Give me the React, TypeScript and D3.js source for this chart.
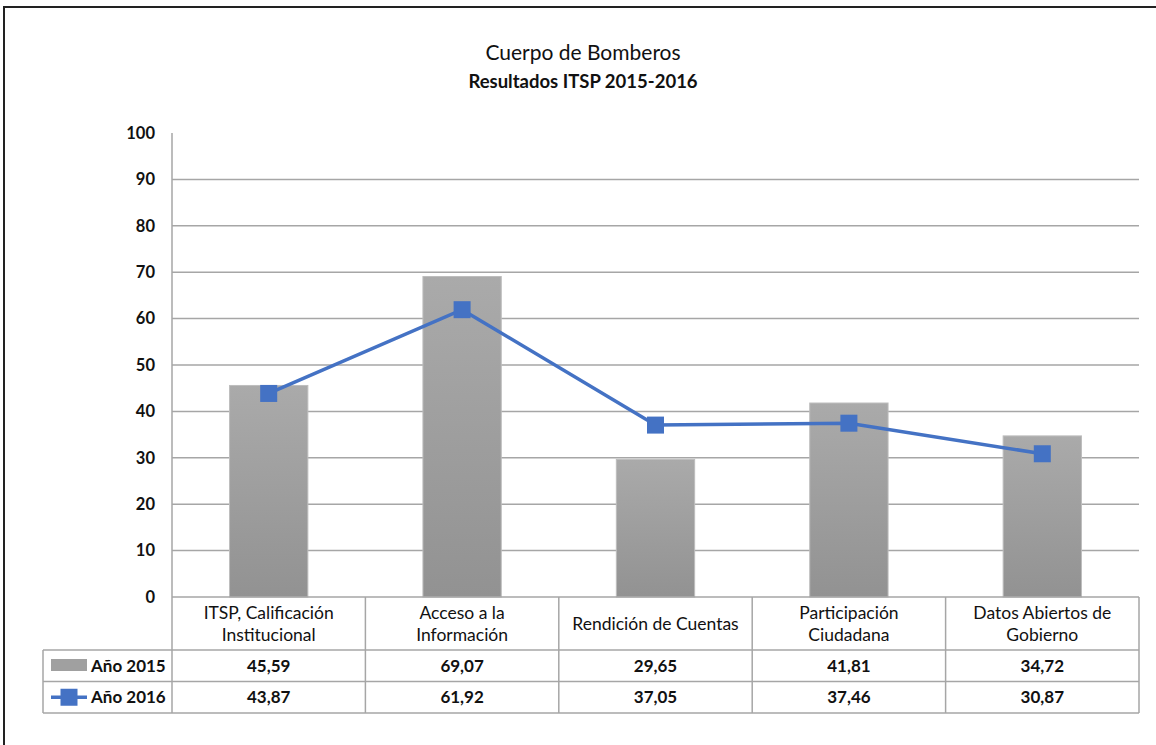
import * as d3 from 'd3';

const WIDTH = 1156;
const HEIGHT = 745;
const MARGIN = { top: 133, right: 17, bottom: 148, left: 172 };

const categories = [
  ['ITSP, Calificación', 'Institucional'],
  ['Acceso a la', 'Información'],
  ['Rendición de Cuentas'],
  ['Participación', 'Ciudadana'],
  ['Datos Abiertos de', 'Gobierno'],
];
const values2015 = [45.59, 69.07, 29.65, 41.81, 34.72];
const values2016 = [43.87, 61.92, 37.05, 37.46, 30.87];
const yTicks = [0, 10, 20, 30, 40, 50, 60, 70, 80, 90, 100];

const FONT = 'Lato, "Open Sans", sans-serif';
const BLUE = '#4472C4';
const GRID = '#a6a6a6';

const fmt = (v: number) => v.toFixed(2).replace('.', ',');

export default function App() {
  const boundsWidth = WIDTH - MARGIN.left - MARGIN.right;
  const boundsHeight = HEIGHT - MARGIN.top - MARGIN.bottom;
  const x0 = MARGIN.left;
  const y0 = MARGIN.top;

  const idx = categories.map((_, i) => i);
  const xScale = d3.scaleBand<number>().domain(idx).range([0, boundsWidth]).paddingInner(0).paddingOuter(0);
  const yScale = d3.scaleLinear().domain([0, 100]).range([boundsHeight, 0]);
  const bw = xScale.bandwidth();
  const barW = bw * 0.405;

  const lineBuilder = d3
    .line<number>()
    .x((d, i) => (xScale(i) as number) + bw / 2)
    .y((d) => yScale(d));
  const linePath = lineBuilder(values2016) || '';

  // table geometry
  const tableTop = y0 + boundsHeight;
  const headerH = 53;
  const rowH = 31.5;
  const tableLeft = 43;
  const tableRight = x0 + boundsWidth;
  const row1 = tableTop + headerH;
  const row2 = row1 + rowH;
  const row3 = row2 + rowH;

  return (
    <svg
      width={WIDTH}
      height={HEIGHT}
      style={{ position: 'absolute', left: 0, top: 0, background: '#fff' }}
    >
      <defs>
        <linearGradient id="barGrad" x1="0" y1="0" x2="0" y2="1">
          <stop offset="0%" stopColor="#aaaaaa" />
          <stop offset="100%" stopColor="#929292" />
        </linearGradient>
      </defs>
      <rect x={4} y={7} width={WIDTH + 20} height={HEIGHT + 20} fill="#fff" stroke="#222" strokeWidth={2} />

      <text x={583} y={53} dy="0.35em" textAnchor="middle" fontFamily={FONT} fontSize={21} fill="#111">
        Cuerpo de Bomberos
      </text>
      <text x={583} y={82} dy="0.35em" textAnchor="middle" fontFamily={FONT} fontSize={18.5} fontWeight="bold" fill="#111">
        Resultados ITSP 2015-2016
      </text>

      <g transform={`translate(${x0},${y0})`}>
        {yTicks.filter((t) => t > 0 && t < 100).map((t) => (
          <line key={t} x1={0} x2={boundsWidth} y1={yScale(t)} y2={yScale(t)} stroke={GRID} strokeWidth={1.5} />
        ))}
        {yTicks.map((t) => (
          <text
            key={'l' + t}
            x={-17}
            y={yScale(t)}
            dy="0.35em"
            textAnchor="end"
            fontFamily={FONT}
            fontSize={16.5}
            fontWeight="bold"
            fill="#111"
          >
            {t}
          </text>
        ))}
        {values2015.map((v, i) => (
          <rect
            key={i}
            x={(xScale(i) as number) + (bw - barW) / 2}
            y={yScale(v)}
            width={barW}
            height={boundsHeight - yScale(v)}
            fill="url(#barGrad)"
            stroke="#bdbdbd"
            strokeWidth={1}
          />
        ))}
        <line x1={0} x2={0} y1={0} y2={boundsHeight} stroke={GRID} strokeWidth={1.5} />
        <path d={linePath} fill="none" stroke={BLUE} strokeWidth={3.5} />
        {values2016.map((v, i) => (
          <rect
            key={'m' + i}
            x={(xScale(i) as number) + bw / 2 - 8.5}
            y={yScale(v) - 8.5}
            width={17}
            height={17}
            fill={BLUE}
          />
        ))}
      </g>

      {/* data table */}
      <g fontFamily={FONT} fill="#111">
        <line x1={x0} x2={tableRight} y1={tableTop} y2={tableTop} stroke={GRID} strokeWidth={1.5} />
        <line x1={tableLeft} x2={tableRight} y1={row1} y2={row1} stroke={GRID} strokeWidth={1.5} />
        <line x1={tableLeft} x2={tableRight} y1={row2} y2={row2} stroke={GRID} strokeWidth={1.5} />
        <line x1={tableLeft} x2={tableRight} y1={row3} y2={row3} stroke={GRID} strokeWidth={1.5} />
        <line x1={tableLeft} x2={tableLeft} y1={row1} y2={row3} stroke={GRID} strokeWidth={1.5} />
        {idx.concat([idx.length]).map((i) => {
          const xx = x0 + (i < idx.length ? (xScale(i) as number) : boundsWidth);
          return <line key={'c' + i} x1={xx} x2={xx} y1={tableTop} y2={row3} stroke={GRID} strokeWidth={1.5} />;
        })}
        {categories.map((lines, i) => {
          const cx = x0 + (xScale(i) as number) + bw / 2;
          const mid = tableTop + headerH / 2;
          const start = mid - ((lines.length - 1) * 22) / 2;
          return lines.map((l, j) => (
            <text key={i + '-' + j} x={cx} y={start + j * 22} dy="0.35em" textAnchor="middle" fontSize={17.5}>
              {l}
            </text>
          ));
        })}
        {values2015.map((v, i) => (
          <text
            key={'a' + i}
            x={x0 + (xScale(i) as number) + bw / 2}
            y={row1 + rowH / 2}
            dy="0.35em"
            textAnchor="middle"
            fontSize={17}
            fontWeight="bold"
          >
            {fmt(v)}
          </text>
        ))}
        {values2016.map((v, i) => (
          <text
            key={'b' + i}
            x={x0 + (xScale(i) as number) + bw / 2}
            y={row2 + rowH / 2}
            dy="0.35em"
            textAnchor="middle"
            fontSize={17}
            fontWeight="bold"
          >
            {fmt(v)}
          </text>
        ))}
        {/* legend keys */}
        <rect x={51} y={row1 + 9} width={36} height={12} fill="#a0a0a0" />
        <text x={91} y={row1 + rowH / 2} dy="0.35em" fontSize={17} fontWeight="bold">Año 2015</text>
        <line x1={51} x2={87} y1={row2 + rowH / 2} y2={row2 + rowH / 2} stroke={BLUE} strokeWidth={3.5} />
        <rect x={60.5} y={row2 + rowH / 2 - 8.5} width={17} height={17} fill={BLUE} />
        <text x={91} y={row2 + rowH / 2} dy="0.35em" fontSize={17} fontWeight="bold">Año 2016</text>
      </g>
    </svg>
  );
}
